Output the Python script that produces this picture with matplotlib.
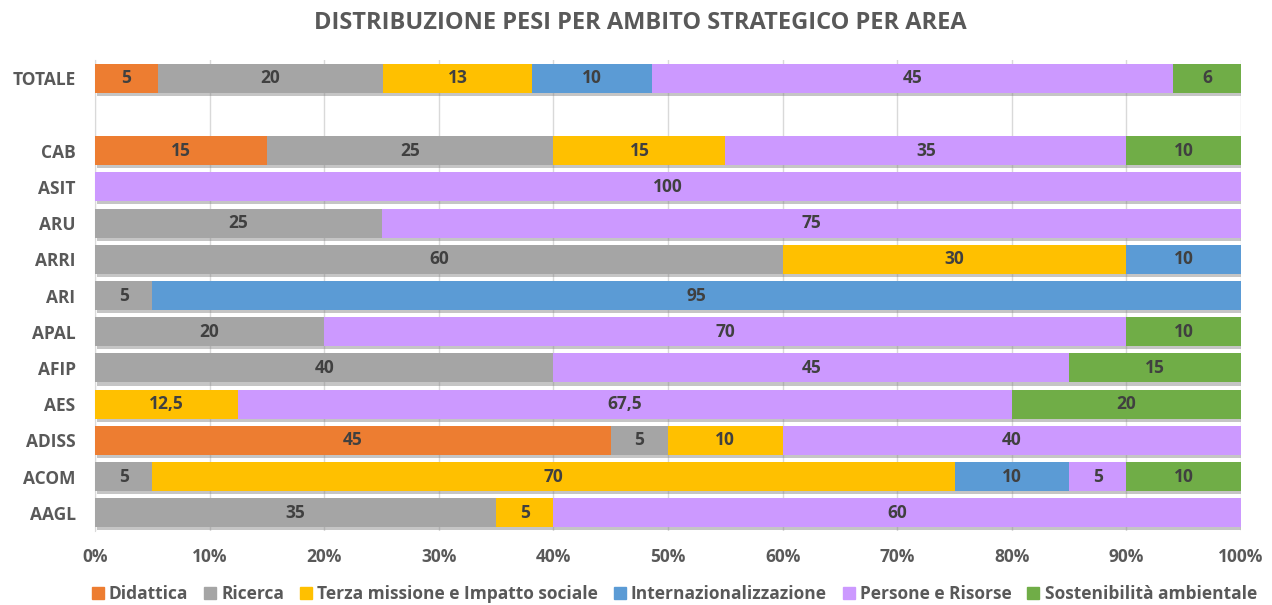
import matplotlib
matplotlib.use("Agg")
import matplotlib.pyplot as plt
import matplotlib.patheffects as pe
from matplotlib.ticker import FuncFormatter, MultipleLocator
from matplotlib.lines import Line2D

plt.rcParams['font.family'] = ['Open Sans', 'DejaVu Sans']
plt.rcParams['font.weight'] = 'bold'

# Categories, bottom to top (TOTALE sits above a blank row)
categories = ["AAGL", "ACOM", "ADISS", "AES", "AFIP", "APAL", "ARI", "ARRI", "ARU", "ASIT", "CAB", "TOTALE"]
series_names = ["Didattica", "Ricerca", "Terza missione e Impatto sociale",
                "Internazionalizzazione", "Persone e Risorse", "Sostenibilità ambientale"]

didattica      = [0,  0,  45, 0,    0,  0,  0,  0,  0,  0,   15, 5.45]
ricerca        = [35, 5,  5,  0,    40, 20, 5,  60, 25, 0,   25, 19.55]
terza_missione = [5,  70, 10, 12.5, 0,  0,  0,  30, 0,  0,   15, 12.95]
internaz       = [0,  10, 0,  0,    0,  0,  95, 10, 0,  0,   0,  10.45]
persone        = [60, 5,  40, 67.5, 45, 70, 0,  0,  75, 100, 35, 45.25]
sostenibilita  = [0,  10, 0,  20,   15, 10, 0,  0,  0,  0,   10, 5.9]

series = [didattica, ricerca, terza_missione, internaz, persone, sostenibilita]
colors = ["#ED7D31", "#A5A5A5", "#FFC000", "#5B9BD5", "#CC99FF", "#70AD47"]

ypos = [i if c != "TOTALE" else i + 1 for i, c in enumerate(categories)]

fig = plt.figure(figsize=(12.72, 6.05), dpi=100)
ax = fig.add_axes([0.0747, 0.1223, 0.9010, 0.7785])

text_col = "#595959"
lab_col = "#404040"

shadow = [pe.SimplePatchShadow(offset=(1.2, -2.2), shadow_rgbFace="#7f7f7f", alpha=0.45), pe.Normal()]

def fmt(v, cat):
    if cat == "TOTALE":
        return f"{v:.0f}"
    if float(v).is_integer():
        return str(int(v))
    return f"{v:g}".replace(".", ",")

totals = [sum(s[i] for s in series) for i in range(len(categories))]
left = [0.0] * len(categories)
for name, vals, col in zip(series_names, series, colors):
    pct = [v / t for v, t in zip(vals, totals)]
    bars = ax.barh(ypos, pct, left=left, height=0.8, color=col, label=name, zorder=3)
    for b in bars:
        b.set_path_effects(shadow)
    for y, l, p, v, cat in zip(ypos, left, pct, vals, categories):
        if v > 0:
            ax.text(l + p / 2, y, fmt(v, cat), ha="center", va="center",
                    fontsize=12.5, fontweight="bold", color=lab_col, zorder=5)
    left = [l + p for l, p in zip(left, pct)]

ax.set_xlim(0, 1)
ax.set_ylim(-0.5, 12.5)
ax.set_yticks(ypos)
ax.set_yticklabels(categories)
ax.xaxis.set_major_locator(MultipleLocator(0.1))
ax.xaxis.set_major_formatter(FuncFormatter(lambda x, p: f"{x*100:.0f}%"))
ax.tick_params(axis="both", length=0, labelsize=12.5, labelcolor=text_col)
ax.tick_params(axis="x", pad=12)
ax.tick_params(axis="y", pad=14)
for lab in ax.get_xticklabels() + ax.get_yticklabels():
    lab.set_fontweight("bold")
ax.grid(axis="x", color="#D9D9D9", linewidth=1, zorder=0)
ax.set_axisbelow(True)
for s in ["top", "right", "bottom"]:
    ax.spines[s].set_visible(False)
ax.spines["left"].set_color("#D9D9D9")
ax.spines["left"].set_zorder(1)

fig.text(0.503, 0.962, "DISTRIBUZIONE PESI PER AMBITO STRATEGICO PER AREA",
         ha="center", va="center", fontsize=17, fontweight="bold", color=text_col)

handles = [Line2D([], [], marker="s", linestyle="none", markersize=9, color=c) for c in colors]
fig.legend(handles, series_names, loc="center", bbox_to_anchor=(0.530, 0.018), ncol=6,
           frameon=False, handlelength=0.7, handletextpad=0.3, columnspacing=0.9,
           labelcolor=text_col, prop={"weight": "bold", "size": 12.5})

fig.savefig("out.png", dpi=100)
